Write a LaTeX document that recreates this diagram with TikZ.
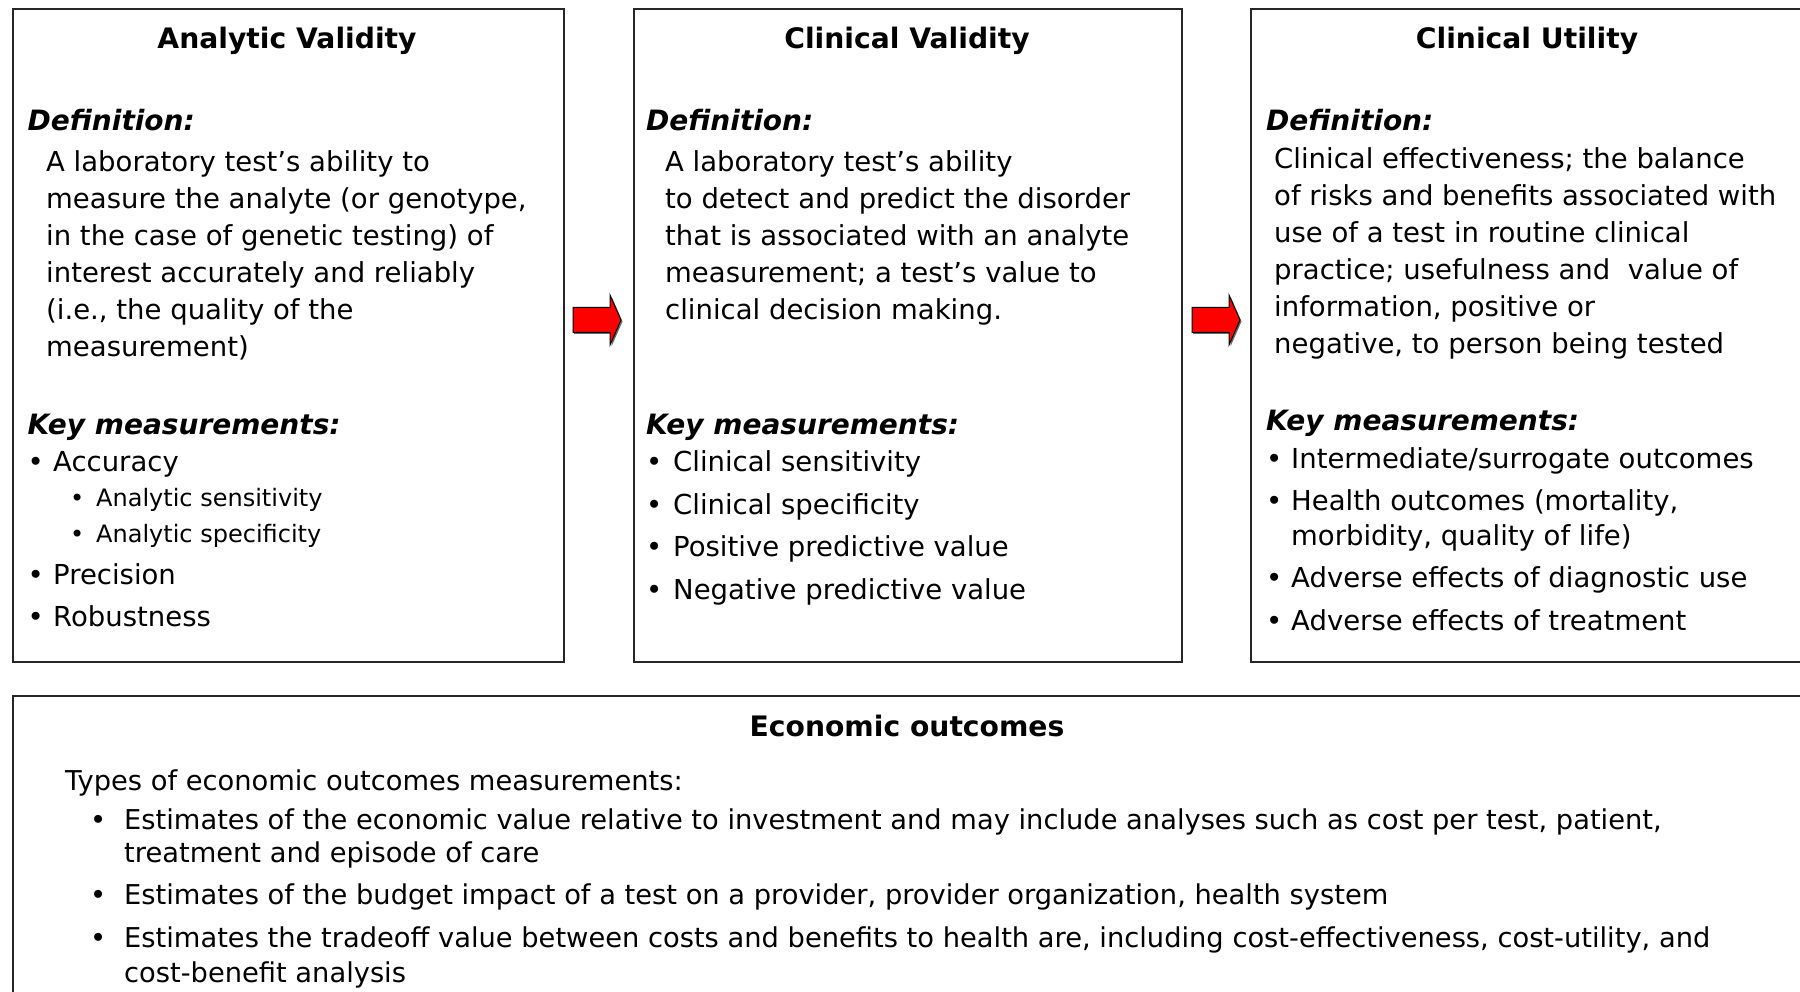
\documentclass[tikz,border=0pt]{standalone}
\usepackage{fontspec}
\setmainfont{DejaVu Sans}

\newcommand{\blt}[1]{\makebox[#1][l]{\textbullet}}
\newcommand{\cont}[1]{\makebox[#1]{}}

\tikzset{
  panel/.style={draw=black!85, line width=2pt, anchor=north west, inner sep=0pt},
  heading/.style={anchor=base, inner sep=0pt, font=\fontsize{28.2}{34}\selectfont\bfseries},
  subhead/.style={anchor=base west, inner sep=0pt, font=\fontsize{28}{34}\selectfont\bfseries\itshape},
  para/.style={anchor=north west, inner sep=0pt, align=left, font=\fontsize{27.5}{37}\selectfont},
  entry/.style={anchor=base west, inner sep=0pt, font=\fontsize{27.5}{37}\selectfont},
  subentry/.style={entry, font=\fontsize{24}{30}\selectfont},
  econ/.style={entry, font=\fontsize{27.3}{34}\selectfont},
  redarrow/.pic={
    \fill[black!60] (-23,-11) -- (14.5,-11) -- (14.5,-23.5) -- (25.5,1.5) -- (14.5,26.5) -- (14.5,14) -- (-23,14) -- cycle;
    \draw[fill=red, line width=1pt] (-24,-12.5) -- (13,-12.5) -- (13,-25) -- (24,0) -- (13,25) -- (13,12.5) -- (-24,12.5) -- cycle;
  }
}

\begin{document}
\begin{tikzpicture}[x=1pt,y=-1pt]
\useasboundingbox (0,0) rectangle (1800,992);
\clip (0,0) rectangle (1800,992);

% the three panels and the economic panel below
\node[panel, minimum width=551pt, minimum height=653pt] (av) at (11.5,8) {};
\node[panel, minimum width=548.5pt, minimum height=653pt] (cv) at (632.5,8) {};
\node[panel, minimum width=580pt, minimum height=653pt] (cu) at (1250,8) {};
\node[panel, minimum width=1830pt, minimum height=340pt] (eo) at (11.5,695) {};

\pic (arrA) at (597,320) {redarrow};
\pic (arrB) at (1216,320) {redarrow};

% analytic validity
\node[heading] (avTitle) at (287,49) {Analytic Validity};
\node[subhead] (avDef) at (27.5,131) {Definition:};
\node[para] (avText) at (46,145.1) {\strut A laboratory test’s ability to\\
  measure the analyte (or genotype,\\
  in the case of genetic testing) of\\
  interest accurately and reliably\\
  (i.e., the quality of the\\
  measurement)};
\node[subhead] (avKey) at (27.5,435) {Key measurements:};
\foreach \y/\t [count=\i] in {471/Accuracy, 584/Precision, 626/Robustness}
  \node[entry] (avItem\i) at (27.5,\y) {\blt{25.5pt}\t};
\foreach \y/\t [count=\i] in {506/Analytic sensitivity, 542/Analytic specificity}
  \node[subentry] (avSub\i) at (70,\y) {\blt{26pt}\t};

% clinical validity
\node[heading] (cvTitle) at (907,49) {Clinical Validity};
\node[subhead] (cvDef) at (646,131) {Definition:};
\node[para] (cvText) at (665,145.1) {\strut A laboratory test’s ability\\
  to detect and predict the disorder\\
  that is associated with an analyte\\
  measurement; a test’s value to\\
  clinical decision making.};
\node[subhead] (cvKey) at (646,435) {Key measurements:};
\foreach \y/\t [count=\i] in {471/Clinical sensitivity, 514/Clinical specificity,
    556/Positive predictive value, 599/Negative predictive value}
  \node[entry] (cvItem\i) at (646,\y) {\blt{27pt}\t};

% clinical utility
\node[heading] (cuTitle) at (1527,49) {Clinical Utility};
\node[subhead] (cuDef) at (1266,131) {Definition:};
\node[para] (cuText) at (1274,142.1) {\strut Clinical effectiveness; the balance\\
  of risks and benefits associated with\\
  use of a test in routine clinical\\
  practice; usefulness and \ value of\\
  information, positive or\\
  negative, to person being tested};
\node[subhead] (cuKey) at (1266,430) {Key measurements:};
\foreach \y/\t [count=\i] in {468/{\blt{25pt}Intermediate/surrogate outcomes},
    510.5/{\blt{25pt}Health outcomes (mortality,},
    545/{\cont{25pt}morbidity, quality of life)},
    587/{\blt{25pt}Adverse effects of diagnostic use},
    630/{\blt{25pt}Adverse effects of treatment}}
  \node[entry] (cuItem\i) at (1266,\y) {\t};

% economic outcomes
\node[heading] (eoTitle) at (907,736) {Economic outcomes};
\node[econ] (eoIntro) at (65,790) {Types of economic outcomes measurements:};
\foreach \y/\t [count=\i] in {829/{\blt{34pt}Estimates of the economic value relative to investment and may include analyses such as cost per test, patient,},
    862/{\cont{34pt}treatment and episode of care},
    904/{\blt{34pt}Estimates of the budget impact of a test on a provider, provider organization, health system},
    947/{\blt{34pt}Estimates the tradeoff value between costs and benefits to health are, including cost-effectiveness, cost-utility, and},
    982/{\cont{34pt}cost-benefit analysis}}
  \node[econ] (eoItem\i) at (90,\y) {\t};
\end{tikzpicture}
\end{document}
